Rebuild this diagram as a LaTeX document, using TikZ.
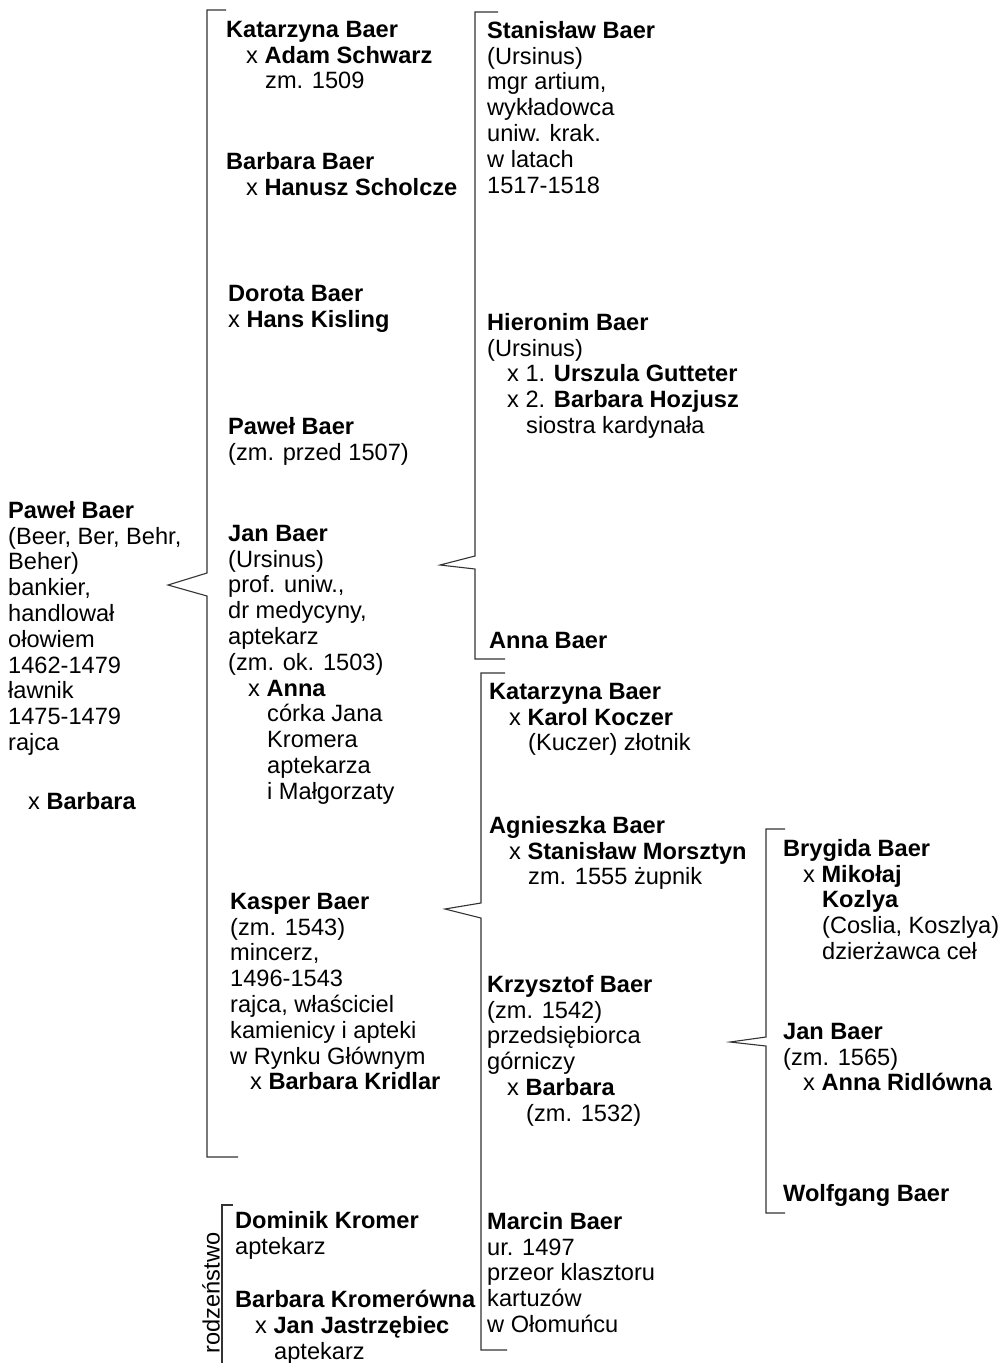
\documentclass[tikz,border=0pt]{standalone}
\usepackage{fontspec}
\setmainfont{Liberation Sans}
\newcommand{\indA}{\hspace*{20pt}}
\newcommand{\indB}{\hspace*{39pt}}

\begin{document}
\begin{tikzpicture}[
  x=1pt, y=-1pt,
  % coordinates give the baseline of the first line
  person/.style={anchor=north west, yshift=18.06pt, inner sep=0pt, align=left,
    font=\fontsize{23.6}{25.8}\selectfont, execute at begin node=\strut},
  bracketline/.style={draw=black!80, line width=1.1pt},
]
\useasboundingbox (0,0) rectangle (1006,1363);

% Generation 1
\node[person] (pawel) at (8,519) {\textbf{Paweł Baer}\\(Beer, Ber, Behr,\\Beher)\\bankier,\\handlował\\ołowiem\\1462-1479\\ławnik\\1475-1479\\rajca\\[33pt]\indA x \textbf{Barbara}};

% Generation 2
\node[person] (katA)   at (226,39)  {\textbf{Katarzyna Baer}\\\indA x \textbf{Adam Schwarz}\\\indB zm. 1509};
\node[person] (barbA)  at (226,170) {\textbf{Barbara Baer}\\\indA x \textbf{Hanusz Scholcze}};
\node[person] (dorota) at (228,303) {\textbf{Dorota Baer}\\x \textbf{Hans Kisling}};
\node[person] (pawelB) at (228,435) {\textbf{Paweł Baer}\\(zm. przed 1507)};
\node[person] (jan)    at (228,543) {\textbf{Jan Baer}\\(Ursinus)\\prof. uniw.,\\dr medycyny,\\aptekarz\\(zm. ok. 1503)\\\indA x \textbf{Anna}\\\indB córka Jana\\\indB Kromera\\\indB aptekarza\\\indB i Małgorzaty};
\node[person] (kasper) at (230,911) {\textbf{Kasper Baer}\\(zm. 1543)\\mincerz,\\1496-1543\\rajca, właściciel\\kamienicy i apteki\\w Rynku Głównym\\\indA x \textbf{Barbara Kridlar}};

% Kromer siblings
\node[person] (dominik)  at (235,1229) {\textbf{Dominik Kromer}\\aptekarz};
\node[person] (barbK)    at (235,1308) {\textbf{Barbara Kromerówna}\\\indA x \textbf{Jan Jastrzębiec}\\\indB aptekarz};
\node[font=\fontsize{23.6}{25.8}\selectfont, rotate=90, inner sep=0pt] (rodz) at (211,1293) {rodzeństwo};

% Generation 3: children of Jan
\node[person] (stanislaw) at (487,39)  {\textbf{Stanisław Baer}\\(Ursinus)\\mgr artium,\\wykładowca\\uniw. krak.\\w latach\\1517-1518};
\node[person] (hieronim)  at (487,331) {\textbf{Hieronim Baer}\\(Ursinus)\\\indA x 1. \textbf{Urszula Gutteter}\\\indA x 2. \textbf{Barbara Hozjusz}\\\indB siostra kardynała};
\node[person] (annaB)     at (489,648) {\textbf{Anna Baer}};

% Generation 3: children of Kasper
\node[person] (katB)      at (489,701)  {\textbf{Katarzyna Baer}\\\indA x \textbf{Karol Koczer}\\\indB (Kuczer) złotnik};
\node[person] (agnieszka) at (489,834)  {\textbf{Agnieszka Baer}\\\indA x \textbf{Stanisław Morsztyn}\\\indB zm. 1555 żupnik};
\node[person] (krzysztof) at (487,993)  {\textbf{Krzysztof Baer}\\(zm. 1542)\\przedsiębiorca\\górniczy\\\indA x \textbf{Barbara}\\\indB (zm. 1532)};
\node[person] (marcin)    at (487,1230) {\textbf{Marcin Baer}\\ur. 1497\\przeor klasztoru\\kartuzów\\w Ołomuńcu};

% Generation 4: children of Krzysztof
\node[person] (brygida)  at (783,857)  {\textbf{Brygida Baer}\\\indA x \textbf{Mikołaj}\\\indB\textbf{Kozlya}\\\indB (Coslia, Koszlya)\\\indB dzierżawca ceł};
\node[person] (janC)     at (783,1041) {\textbf{Jan Baer}\\(zm. 1565)\\\indA x \textbf{Anna Ridlówna}};
\node[person] (wolfgang) at (783,1201) {\textbf{Wolfgang Baer}};

% Brackets (beak points at the parent)
\coordinate (pawelBeak) at (168,585);
\coordinate (b1top) at (226,10);
\coordinate (b1bot) at (238,1157);
\draw[bracketline] (b1top) -- (207,10) -- (207,573) -- (pawelBeak) -- (207,596) -- (207,1157) -- (b1bot);

\coordinate (janBeak) at (440,565);
\coordinate (b2top) at (498,12);
\coordinate (b2bot) at (505,659);
\draw[bracketline] (b2top) -- (475,12) -- (475,556) -- (janBeak) -- (475,569) -- (475,659) -- (b2bot);

\coordinate (kasperBeak) at (445,909);
\coordinate (b3top) at (505,673);
\coordinate (b3bot) at (507,1350);
\draw[bracketline] (b3top) -- (481,673) -- (481,903) -- (kasperBeak) -- (481,918) -- (481,1350) -- (b3bot);

\coordinate (krzysztofBeak) at (730,1042);
\coordinate (b4top) at (785,829);
\coordinate (b4bot) at (785,1213);
\draw[bracketline] (b4top) -- (766,829) -- (766,1037) -- (krzysztofBeak) -- (766,1046) -- (766,1213) -- (b4bot);

% siblings bracket
\coordinate (b5top) at (233,1205);
\coordinate (b5bot) at (222,1363);
\draw[bracketline] (b5top) -- (222,1205) -- (b5bot);
\end{tikzpicture}
\end{document}
